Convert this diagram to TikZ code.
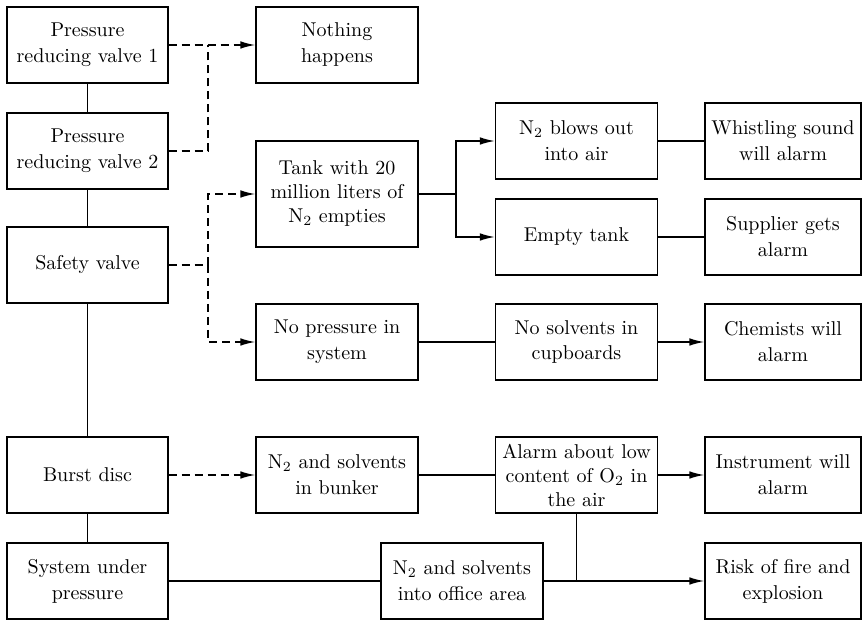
\documentclass[tikz,border=0pt]{standalone}
\usetikzlibrary{arrows.meta}
\begin{document}
\begin{tikzpicture}[x=0.5pt,y=-0.5pt,
  box/.style={draw, line width=0.7pt, align=center, inner sep=0pt, minimum height=38pt,
    font=\fontsize{10}{13}\selectfont},
  wa/.style={minimum width=80.5pt},
  wb/.style={minimum width=81pt},
  wc/.style={minimum width=78pt},
  three/.style={font=\fontsize{10}{12}\selectfont},
  conn/.style={line width=0.7pt},
  arr/.style={conn, -{Latex[length=7.5pt,width=3.8pt]}},
  dsh/.style={dash pattern=on 4pt off 2.5pt}]
\useasboundingbox (0,0) rectangle (863,620);
% column 1
\node[box,wa] (prv1) at (87.5,45) {Pressure\\reducing valve 1};
\node[box,wa] (prv2) at (87.5,151) {Pressure\\reducing valve 2};
\node[box,wa] (safety) at (87.5,265) {Safety valve};
\node[box,wa] (burst) at (87.5,475) {Burst disc};
\node[box,wa] (sys) at (87.5,581) {System under\\pressure};
% column 2
\node[box,wb] (nothing) at (337,45) {Nothing\\happens};
\node[box,wb,three,minimum height=53pt] (tank) at (337,194) {Tank with 20\\million liters of\\N$_2$ empties};
\node[box,wb] (nopress) at (337,342) {No pressure in\\system};
\node[box,wb] (bunker) at (337,475) {N$_2$ and solvents\\in bunker};
\node[box,wb] (office) at (462,581) {N$_2$ and solvents\\into office area};
% column 3
\node[box,wb] (blows) at (576.5,141) {N$_2$ blows out\\into air};
\node[box,wb] (empty) at (576.5,237) {Empty tank};
\node[box,wb] (nosolv) at (576.5,342) {No solvents in\\cupboards};
\node[box,wb,three] (alarmlow) at (576.5,475) {Alarm about low\\content of O$_2$ in\\the air};
% column 4
\node[box,wc] (whistle) at (783,141) {Whistling sound\\will alarm};
\node[box,wc] (supplier) at (783,237) {Supplier gets\\alarm};
\node[box,wc] (chemists) at (783,342) {Chemists will\\alarm};
\node[box,wc] (instrument) at (783,475) {Instrument will\\alarm};
\node[box,wc] (risk) at (783,581) {Risk of fire and\\explosion};
% junctions
\coordinate (dA) at (208,45);
\coordinate (dB) at (208,265);
\coordinate (tB) at (456,194);
% column 1 chain
\draw[conn] (prv1) -- (prv2);
\draw[conn] (prv2) -- (safety);
\draw[conn] (safety) -- (burst);
\draw[conn] (burst) -- (sys);
% dashed
\draw[arr,dsh] (prv1.east) -- (nothing.west);
\draw[conn,dsh] (prv2.east) -| (dA);
\draw[conn,dsh] (safety.east) -- (dB);
\draw[arr,dsh] (dB) |- (tank.west);
\draw[arr,dsh] (dB) |- (nopress.west);
\draw[arr,dsh] (burst.east) -- (bunker.west);
% tank branches
\draw[conn] (tank.east) -- (tB);
\draw[arr] (tB) |- (blows.west);
\draw[arr] (tB) |- (empty.west);
\draw[conn] (blows) -- (whistle);
\draw[conn] (empty) -- (supplier);
\draw[conn] (nopress) -- (nosolv);
\draw[arr] (nosolv) -- (chemists);
\draw[conn] (bunker) -- (alarmlow);
\draw[arr] (alarmlow) -- (instrument);
\draw[conn] (sys) -- (office);
\draw[arr] (office) -- (risk);
\draw[conn] (alarmlow.south) -- (alarmlow.south |- office.east);
\end{tikzpicture}
\end{document}
